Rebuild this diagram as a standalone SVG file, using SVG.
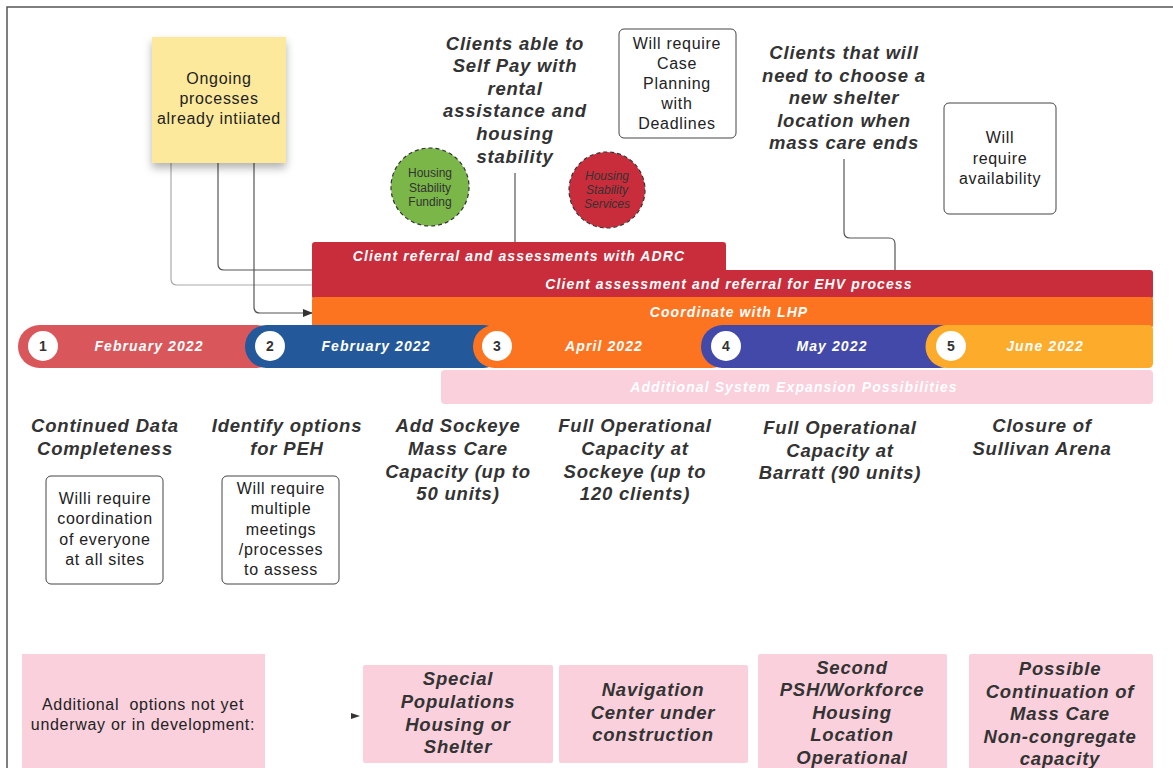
<svg xmlns="http://www.w3.org/2000/svg" width="1173" height="768" viewBox="0 0 1173 768">
<defs>
<style>
.reg{font-family:"Liberation Sans",Arial,sans-serif;font-size:16px;fill:#222;text-anchor:middle;letter-spacing:0.7px}
.big{font-family:"Liberation Sans",Arial,sans-serif;font-size:18.5px;font-weight:bold;font-style:italic;fill:#333;text-anchor:middle;letter-spacing:0.8px}
.bar{font-family:"Liberation Sans",Arial,sans-serif;font-size:14px;font-weight:bold;font-style:italic;fill:#fff;text-anchor:middle;letter-spacing:1.1px}
.num{font-family:"Liberation Sans",Arial,sans-serif;font-size:14px;font-weight:bold;fill:#333;text-anchor:middle}
.small{font-family:"Liberation Sans",Arial,sans-serif;font-size:12px;fill:#333;text-anchor:middle}
.note{fill:#fff;stroke:#444;stroke-width:1}
.pink{fill:#f9d0dc}
.conn{fill:none;stroke:#555;stroke-width:1.2}
.circ{fill:#fff}
</style>
<marker id="arr" markerWidth="10" markerHeight="8" refX="9" refY="4" orient="auto" markerUnits="userSpaceOnUse">
<path d="M0,0 L10,4 L0,8 Z" fill="#333"/>
</marker>
<filter id="sh" x="-20%" y="-20%" width="140%" height="150%">
<feDropShadow dx="0" dy="5" stdDeviation="4" flood-color="#000" flood-opacity="0.3"/>
</filter>
</defs>
<rect width="1173" height="768" fill="#fff"/>
<rect x="7" y="7" width="1190" height="800" fill="none" stroke="#555" stroke-width="1.5"/>

<g id="connectors">
<path class="conn" d="M171 163 V279 Q171 285 177 285 H312" style="stroke:#aaa"/>
<path class="conn" d="M218 163 V264 Q218 270 224 270 H312"/>
<path class="conn" d="M254 163 V307 Q254 313 260 313 H312" marker-end="url(#arr)"/>
<path class="conn" d="M515 173 V243"/>
<path class="conn" d="M844 159 V232 Q844 238 850 238 H889 Q895 238 895 244 V270"/>
<path d="M351 713 L360 716 L351 719 Z" fill="#333"/>
</g>

<g id="sticky">
<rect x="152" y="37" width="134" height="126" fill="#fde99c" filter="url(#sh)"/>
<text class="reg" x="219" y="84">Ongoing</text>
<text class="reg" x="219" y="104">processes</text>
<text class="reg" x="219" y="124">already intiiated</text>
</g>

<g id="self-pay">
<text class="big" x="515" y="50">Clients able to</text>
<text class="big" x="515" y="72">Self Pay with</text>
<text class="big" x="515" y="95">rental</text>
<text class="big" x="515" y="117">assistance and</text>
<text class="big" x="515" y="140">housing</text>
<text class="big" x="515" y="163">stability</text>
</g>

<g id="case-planning">
<rect class="note" x="619" y="29" width="117" height="109" rx="5"/>
<text class="reg" x="677" y="49">Will require</text>
<text class="reg" x="677" y="69">Case</text>
<text class="reg" x="677" y="89">Planning</text>
<text class="reg" x="677" y="109">with</text>
<text class="reg" x="677" y="129">Deadlines</text>
</g>

<g id="shelter">
<text class="big" x="844" y="59">Clients that will</text>
<text class="big" x="844" y="82">need to choose a</text>
<text class="big" x="844" y="104">new shelter</text>
<text class="big" x="844" y="127">location when</text>
<text class="big" x="844" y="149">mass care ends</text>
</g>

<g id="availability">
<rect class="note" x="944" y="103" width="112" height="111" rx="5"/>
<text class="reg" x="1000" y="143">Will</text>
<text class="reg" x="1000" y="164">require</text>
<text class="reg" x="1000" y="184">availability</text>
</g>

<g id="funding">
<circle cx="430" cy="187" r="39" fill="#7ab648" stroke="#333" stroke-width="1.2" stroke-dasharray="4 3"/>
<text class="small" x="430" y="177">Housing</text>
<text class="small" x="430" y="192">Stability</text>
<text class="small" x="430" y="206">Funding</text>
</g>

<g id="services">
<circle cx="607" cy="190" r="38" fill="#c92c3a" stroke="#333" stroke-width="1.2" stroke-dasharray="4 3"/>
<text class="small" x="607" y="180" font-style="italic">Housing</text>
<text class="small" x="607" y="194" font-style="italic">Stability</text>
<text class="small" x="607" y="208" font-style="italic">Services</text>
</g>

<g id="adrc">
<rect x="312" y="242" width="414" height="34" rx="3" fill="#c92c3a"/>
<text class="bar" x="519" y="261">Client referral and assessments with ADRC</text>
</g>
<g id="ehv">
<rect x="312" y="270" width="841" height="29" rx="3" fill="#c92c3a"/>
<text class="bar" x="729" y="289">Client assessment and referral for EHV process</text>
</g>
<g id="lhp">
<rect x="312" y="297" width="841" height="31" rx="3" fill="#fd7420"/>
<text class="bar" x="729" y="317">Coordinate with LHP</text>
</g>

<g id="timeline">
<g id="t1">
<rect x="18" y="325" width="260" height="43" rx="21.5" fill="#d9575a"/>
<circle class="circ" cx="43" cy="346" r="15"/>
<text class="num" x="43" y="351">1</text>
<text class="bar" x="149" y="351">February 2022</text>
</g>
<g id="t2">
<rect x="245" y="325" width="260" height="43" rx="21.5" fill="#23599a"/>
<circle class="circ" cx="270" cy="346" r="15"/>
<text class="num" x="270" y="351">2</text>
<text class="bar" x="376" y="351">February 2022</text>
</g>
<g id="t3">
<rect x="473" y="325" width="260" height="43" rx="21.5" fill="#fd7420"/>
<circle class="circ" cx="497" cy="346" r="15"/>
<text class="num" x="497" y="351">3</text>
<text class="bar" x="604" y="351">April 2022</text>
</g>
<g id="t4">
<rect x="701" y="325" width="260" height="43" rx="21.5" fill="#4349a8"/>
<circle class="circ" cx="726" cy="346" r="15"/>
<text class="num" x="726" y="351">4</text>
<text class="bar" x="832" y="351">May 2022</text>
</g>
<g id="t5">
<path d="M947 325 H1148 Q1153 325 1153 330 V363 Q1153 368 1148 368 H947 A21.5 21.5 0 0 1 947 325 Z" fill="#fdab2a"/>
<circle class="circ" cx="951" cy="346" r="15"/>
<text class="num" x="951" y="351">5</text>
<text class="bar" x="1045" y="351">June 2022</text>
</g>
</g>

<g id="expansion">
<rect class="pink" x="441" y="370" width="712" height="34" rx="4"/>
<text class="bar" x="794" y="392">Additional System Expansion Possibilities</text>
</g>

<g id="m1">
<text class="big" x="105" y="432">Continued Data</text>
<text class="big" x="105" y="455">Completeness</text>
</g>
<g id="m1-note">
<rect class="note" x="46" y="476" width="117" height="108" rx="5"/>
<text class="reg" x="105" y="504">Willi require</text>
<text class="reg" x="105" y="524">coordination</text>
<text class="reg" x="105" y="545">of everyone</text>
<text class="reg" x="105" y="565">at all sites</text>
</g>
<g id="m2">
<text class="big" x="287" y="432">Identify options</text>
<text class="big" x="287" y="455">for PEH</text>
</g>
<g id="m2-note">
<rect class="note" x="222" y="476" width="117" height="108" rx="5"/>
<text class="reg" x="281" y="494">Will require</text>
<text class="reg" x="281" y="514">multiple</text>
<text class="reg" x="281" y="535">meetings</text>
<text class="reg" x="281" y="555">/processes</text>
<text class="reg" x="281" y="575">to assess</text>
</g>
<g id="m3">
<text class="big" x="458" y="432">Add Sockeye</text>
<text class="big" x="458" y="455">Mass Care</text>
<text class="big" x="458" y="478">Capacity (up to</text>
<text class="big" x="458" y="500">50 units)</text>
</g>
<g id="m4">
<text class="big" x="635" y="432">Full Operational</text>
<text class="big" x="635" y="455">Capacity at</text>
<text class="big" x="635" y="478">Sockeye (up to</text>
<text class="big" x="635" y="500">120 clients)</text>
</g>
<g id="m5">
<text class="big" x="840" y="434">Full Operational</text>
<text class="big" x="840" y="457">Capacity at</text>
<text class="big" x="840" y="479">Barratt (90 units)</text>
</g>
<g id="m6">
<text class="big" x="1042" y="432">Closure of</text>
<text class="big" x="1042" y="455">Sullivan Arena</text>
</g>

<g id="additional">
<rect class="pink" x="22" y="654" width="243" height="120"/>
<text class="reg" x="143" y="710" style="white-space:pre">Additional  options not yet</text>
<text class="reg" x="143" y="730">underway or in development:</text>
</g>
<g id="special">
<rect class="pink" x="363" y="665" width="190" height="98" rx="2"/>
<text class="big" x="458" y="685">Special</text>
<text class="big" x="458" y="708">Populations</text>
<text class="big" x="458" y="731">Housing or</text>
<text class="big" x="458" y="753">Shelter</text>
</g>
<g id="navigation">
<rect class="pink" x="559" y="665" width="189" height="98" rx="2"/>
<text class="big" x="653" y="696">Navigation</text>
<text class="big" x="653" y="719">Center under</text>
<text class="big" x="653" y="741">construction</text>
</g>
<g id="psh">
<rect class="pink" x="758" y="654" width="189" height="120" rx="2"/>
<text class="big" x="852" y="674">Second</text>
<text class="big" x="852" y="696">PSH/Workforce</text>
<text class="big" x="852" y="719">Housing</text>
<text class="big" x="852" y="741">Location</text>
<text class="big" x="852" y="764">Operational</text>
</g>
<g id="mass-care">
<rect class="pink" x="969" y="654" width="184" height="120" rx="2"/>
<text class="big" x="1060" y="675">Possible</text>
<text class="big" x="1060" y="698">Continuation of</text>
<text class="big" x="1060" y="720">Mass Care</text>
<text class="big" x="1060" y="743">Non-congregate</text>
<text class="big" x="1060" y="765">capacity</text>
</g>
</svg>
